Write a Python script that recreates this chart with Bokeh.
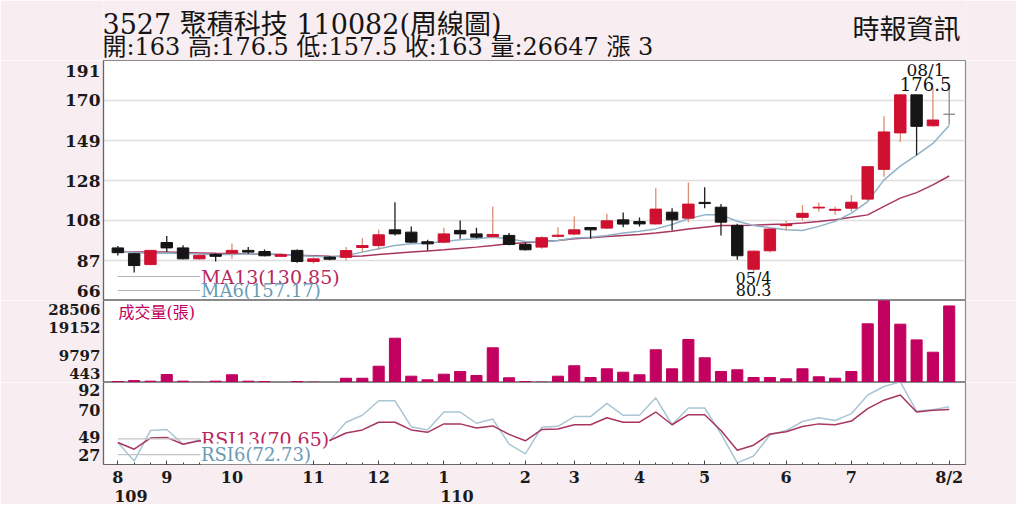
from bokeh.plotting import figure
from bokeh.layouts import column
from bokeh.models import ColumnDataSource, FixedTicker, Label, Range1d, LinearAxis
from bokeh.embed import file_html
from bokeh.resources import INLINE

# ---------------- data (weekly candles, 2020/08 .. 2021/08/02) ----------------
opens = [93.4, 90.4, 84.7, 96.2, 93.4, 87.7, 90.0, 90.7, 92.1, 91.5,
         89.0, 92.1, 86.3, 88.6, 88.5, 93.6, 94.6, 102.8, 101.6, 96.6,
         96.4, 102.5, 100.7, 99.3, 99.9, 95.2, 93.8, 99.4, 100.6, 104.0,
         103.7, 108.0, 107.1, 105.9, 112.0, 108.9, 117.1, 114.6, 105.1, 82.3,
         91.9, 105.0, 109.3, 114.2, 113.0, 114.1, 118.8, 134.3, 153.3, 173.1,
         157.0, 163.0]
highs = [94.4, 90.8, 92.3, 99.6, 94.8, 90.0, 90.5, 95.7, 93.9, 92.5,
         90.5, 92.5, 88.5, 89.0, 93.8, 98.4, 102.8, 117.2, 104.5, 97.6,
         103.9, 107.7, 103.9, 115.0, 101.1, 96.2, 99.5, 104.2, 109.7, 104.2,
         111.2, 111.8, 109.2, 124.5, 114.1, 127.5, 125.0, 116.2, 106.0, 92.0,
         103.7, 107.7, 115.8, 117.0, 115.0, 121.0, 136.0, 161.9, 173.1, 173.1,
         176.5, 176.5]
lows = [89.5, 80.6, 84.5, 91.2, 87.5, 87.3, 86.3, 87.7, 90.4, 89.0,
        88.7, 85.6, 85.2, 87.0, 86.8, 91.2, 92.4, 99.9, 96.1, 92.0,
        95.8, 98.1, 98.4, 98.6, 94.8, 92.0, 93.0, 98.8, 99.9, 98.1,
        103.2, 104.2, 104.5, 105.5, 102.5, 106.8, 114.1, 99.9, 87.2, 80.3,
        91.0, 102.5, 107.7, 112.4, 110.7, 112.4, 118.0, 130.5, 148.6, 141.7,
        156.5, 157.5]
closes = [90.9, 84.2, 92.1, 93.4, 87.7, 89.5, 89.0, 92.1, 91.2, 89.3,
          89.9, 86.3, 87.7, 87.5, 92.0, 94.6, 100.2, 100.7, 96.4, 95.5,
          100.7, 100.7, 99.0, 100.4, 95.2, 92.4, 98.7, 100.0, 102.8, 102.8,
          107.5, 105.8, 105.9, 113.6, 108.0, 116.2, 116.5, 106.8, 89.3, 91.7,
          103.2, 105.6, 111.4, 114.6, 113.5, 117.2, 135.7, 153.8, 173.1, 156.7,
          160.0, 163.0]
ma6 = [92.0, 91.0, 90.5, 90.8, 90.5, 90.2, 90.0, 90.0, 90.3, 90.2,
       90.0, 89.5, 89.0, 88.6, 89.4, 91.2, 93.0, 94.6, 95.5, 95.8,
       96.7, 97.6, 98.1, 99.0, 98.1, 96.7, 96.4, 97.3, 98.6, 99.0,
       99.9, 101.1, 102.1, 103.3, 105.6, 108.6, 110.6, 110.6, 107.3, 105.1,
       103.9, 102.8, 102.5, 104.6, 107.2, 111.5, 117.5, 128.8, 136.0, 141.7,
       147.8, 157.17]
ma13 = [91.5, 91.3, 91.2, 91.2, 91.0, 90.8, 90.6, 90.5, 90.3, 90.1,
        89.9, 89.6, 89.3, 89.0, 88.9, 89.2, 90.0, 90.6, 91.2, 91.8,
        92.4, 93.1, 93.8, 94.6, 95.5, 96.1, 96.7, 97.2, 98.1, 98.7,
        99.3, 99.9, 100.4, 101.2, 102.1, 103.2, 104.2, 105.1, 105.0, 105.2,
        105.6, 105.8, 106.4, 107.2, 108.1, 109.3, 110.6, 115.0, 119.3, 122.2,
        126.2, 130.85]
volumes = [780, 1100, 900, 3180, 900, 500, 900, 3080, 900, 780,
           443, 780, 560, 460, 1900, 1900, 6020, 15600, 2600, 1370,
           3280, 4210, 2840, 12320, 2050, 780, 550, 2600, 6160, 2150,
           5130, 3970, 3080, 11630, 5130, 15160, 8900, 4210, 4790, 2150,
           2150, 1700, 5130, 2400, 1900, 4210, 20530, 28506, 20400, 15030,
           10810, 26647]
rsi13 = [44.4, 39.1, 48.0, 48.5, 43.1, 45.8, 44.5, 49.0, 48.5, 46.5,
         47.0, 44.0, 45.5, 46.0, 52.0, 54.4, 60.5, 60.5, 54.4, 52.5,
         59.2, 59.2, 56.0, 57.6, 50.9, 45.8, 54.7, 55.2, 58.5, 58.5,
         64.1, 60.5, 60.5, 68.6, 58.5, 66.5, 66.5, 53.9, 38.3, 42.3,
         51.2, 53.0, 57.1, 59.2, 58.5, 61.4, 71.3, 78.0, 82.1, 68.6,
         70.0, 70.65]
rsi6 = [44.4, 29.7, 53.9, 54.7, 43.1, 46.4, 44.0, 54.7, 53.5, 46.0,
        48.0, 40.0, 44.0, 46.0, 60.5, 66.0, 77.5, 77.5, 57.0, 54.4,
        68.6, 68.6, 59.7, 63.0, 43.1, 35.5, 56.5, 57.3, 65.0, 65.0,
        75.4, 66.0, 66.0, 79.9, 58.5, 71.8, 71.8, 51.2, 28.3, 33.7,
        50.4, 53.9, 61.1, 64.1, 61.9, 67.3, 82.1, 88.8, 92.5, 69.4,
        70.5, 72.73]

month_ticks = [0, 3, 7, 12, 16, 20, 25, 28, 32, 36, 41, 45, 51]
month_labels = ["8", "9", "10", "11", "12", "1", "2", "3", "4", "5", "6", "7", "8/2"]
year_ticks = [0, 20]
year_labels = ["109", "110"]

price_labels = ["66", "87", "108", "128", "149", "170", "191"]
volume_labels = ["443", "9797", "19152", "28506"]
rsi_labels = ["27", "49", "70", "92"]

title_text = "3527  聚積科技 110082(周線圖)"
source_text = "時報資訊"
volume_title = "成交量(張)"
hi_date = "08/1"
lo_date = "05/4"

# ---------------- styling ----------------
SERIF = "DejaVu Serif"
MIXED = "DejaVu Serif, Noto Sans CJK TC"
PINK = "#f8eef1"
UP, DOWN, FLAT = "#cf1030", "#151515", "#8c8c8c"
UP_WICK, DOWN_WICK = "#d98f72", "#1e1e1e"
MA13_C, MA6_C = "#a83660", "#8fb2c6"
MA13_T, MA6_T = "#b8285f", "#6a9bb4"
VOL_C = "#c2005f"

W = 1016
LEFT, RIGHT = 103, 51
HEAD = 60
FRAME_P, FRAME_V, FRAME_R = 240, 82, 83
FOOT = 39

n = len(closes)
idx = list(range(n))
x_range = Range1d(-0.88, n)

p_lo, p_hi = float(price_labels[0]), float(price_labels[-1])
v_lo, v_hi = float(volume_labels[0]), float(volume_labels[-1])
r_lo, r_hi = float(rsi_labels[0]), float(rsi_labels[-1])


def make_fig(height, y_range, top, bottom, xaxis=False):
    f = figure(width=W, height=height, x_range=x_range, y_range=y_range,
               x_axis_location="below" if xaxis else None,
               output_backend="svg", toolbar_location=None, tools="",
               min_border_left=LEFT, min_border_right=RIGHT,
               min_border_top=top, min_border_bottom=bottom,
               background_fill_color="white", border_fill_color=PINK)
    f.outline_line_color = "#8a8a8a"
    f.outline_line_width = 1.2
    f.xgrid.visible = False
    f.ygrid.visible = False
    ax = f.yaxis[0]
    ax.axis_line_color = "#666666"
    ax.axis_line_width = 1.2
    ax.major_tick_in = 0
    ax.major_tick_out = 0
    ax.minor_tick_in = 0
    ax.minor_tick_out = 0
    ax.major_label_text_font = SERIF
    ax.major_label_text_font_style = "bold"
    ax.major_label_text_font_size = "17px"
    ax.major_label_text_color = "#1a1a1a"
    ax.major_label_standoff = 3
    return f


def axis_ticks(ax, lo, hi, labels, frame_px, top_shift, bot_shift):
    k = len(labels) - 1
    step = (hi - lo) / k
    pos = [round(lo + i * step, 3) for i in range(k + 1)]
    upp = (hi - lo) / frame_px
    pos[0] = round(lo + bot_shift * upp, 3)
    pos[-1] = round(hi - top_shift * upp, 3)
    ax.ticker = FixedTicker(ticks=pos)
    ax.major_label_overrides = {p: l for p, l in zip(pos, labels)}
    return [round(lo + i * step, 3) for i in range(1, k)]


# ---------------- header ----------------
head = figure(width=W, height=HEAD, x_range=Range1d(0, 1), y_range=Range1d(0, 1),
              x_axis_location=None, y_axis_location=None,
              output_backend="svg", toolbar_location=None, tools="",
              min_border_left=LEFT, min_border_right=RIGHT, min_border_top=0, min_border_bottom=0,
              background_fill_color=PINK, border_fill_color=PINK)
head.outline_line_color = None
head.xgrid.visible = False
head.ygrid.visible = False

chg = closes[-1] - closes[-2]
info = (f"開:{opens[-1]:g} 高:{highs[-1]:g} 低:{lows[-1]:g} 收:{closes[-1]:g} "
        f"量:{volumes[-1]} 漲 {chg:g}")
head.add_layout(Label(x=-1, y=HEAD - 24, x_units="screen", y_units="screen",
                      text=title_text, text_font=MIXED, text_font_size="27px",
                      text_color="#151515", text_baseline="middle"))
head.add_layout(Label(x=-1, y=HEAD - 46, x_units="screen", y_units="screen",
                      text=info, text_font=MIXED, text_font_size="24px",
                      text_color="#151515", text_baseline="middle"))
head.add_layout(Label(x=857, y=HEAD - 29, x_units="screen", y_units="screen",
                      text=source_text, text_font=MIXED, text_font_size="27px",
                      text_color="#151515", text_baseline="middle", text_align="right"))

# ---------------- price panel ----------------
p1 = make_fig(FRAME_P, Range1d(p_lo, p_hi), 0, 0)
inner = axis_ticks(p1.yaxis[0], p_lo, p_hi, price_labels, FRAME_P, 10, 9)
p1.ygrid.visible = True
p1.ygrid.ticker = FixedTicker(ticks=inner)
p1.ygrid.grid_line_color = "#dedede"
p1.ygrid.grid_line_width = 1.5

body_col, wick_col = [], []
for o, c in zip(opens, closes):
    if c > o:
        body_col.append(UP); wick_col.append(UP_WICK)
    elif c < o:
        body_col.append(DOWN); wick_col.append(DOWN_WICK)
    else:
        body_col.append(FLAT); wick_col.append(FLAT)

csrc = ColumnDataSource(dict(
    x=idx, high=highs, low=lows,
    top=[max(o, c) for o, c in zip(opens, closes)],
    bottom=[min(o, c) for o, c in zip(opens, closes)],
    body=body_col, wick=wick_col))

p1.line(idx, ma13, line_color=MA13_C, line_width=1.5)
p1.line(idx, ma6, line_color=MA6_C, line_width=1.5)
p1.segment(x0="x", y0="low", x1="x", y1="high", line_color="wick", line_width=1.3, source=csrc)
p1.vbar(x="x", width=0.7, top="top", bottom="bottom", fill_color="body",
        line_color="body", line_width=1, source=csrc)

upp_p = (p_hi - p_lo) / FRAME_P
leg_y = [p_lo + 24 * upp_p, p_lo + 10 * upp_p]
p1.segment(x0=[0, 0], x1=[5.05, 5.05], y0=leg_y, y1=leg_y, line_color="#b4b4b4", line_width=1.2)
p1.add_layout(Label(x=5.1, y=24, x_units="data", y_units="screen",
                    text=f"MA13({ma13[-1]:.2f})", text_font=SERIF, text_font_size="19px",
                    text_color=MA13_T, text_baseline="middle"))
p1.add_layout(Label(x=5.1, y=10.5, x_units="data", y_units="screen",
                    text=f"MA6({ma6[-1]:.2f})", text_font=SERIF, text_font_size="18px",
                    text_color=MA6_T, text_baseline="middle"))

hi_val = max(highs)
hi_idx = max(i for i, h in enumerate(highs) if h == hi_val)
lo_val = min(lows)
lo_idx = lows.index(lo_val)
p1.add_layout(Label(x=hi_idx - 1.45, y=hi_val, y_offset=4.5, text=f"{hi_val:g}",
                    text_font=SERIF, text_font_size="18px", text_align="center",
                    text_baseline="middle", text_color="#111"))
p1.add_layout(Label(x=hi_idx - 1.45, y=hi_val, y_offset=18.5, text=hi_date,
                    text_font=SERIF, text_font_size="17px", text_align="center",
                    text_baseline="middle", text_color="#111"))
p1.add_layout(Label(x=lo_idx, y=lo_val, y_offset=-5.5, text=lo_date,
                    text_font=SERIF, text_font_size="16px", text_align="center",
                    text_baseline="middle", text_color="#111"))
p1.add_layout(Label(x=lo_idx, y=lo_val, y_offset=-16.5, text=f"{lo_val:g}",
                    text_font=SERIF, text_font_size="16px", text_align="center",
                    text_baseline="middle", text_color="#111"))

# ---------------- volume panel ----------------
p2 = make_fig(FRAME_V, Range1d(v_lo, v_hi), 0, 0)
axis_ticks(p2.yaxis[0], v_lo, v_hi, volume_labels, FRAME_V, 9, 9)
p2.yaxis[0].major_label_text_font_size = "15px"
p2.vbar(x=idx, width=0.68, top=volumes, bottom=v_lo, fill_color=VOL_C, line_color=VOL_C)
p2.add_layout(Label(x=15, y=FRAME_V - 12, x_units="screen", y_units="screen",
                    text=volume_title, text_font=MIXED, text_font_size="16px",
                    text_color=VOL_C, text_baseline="middle"))

# ---------------- RSI panel ----------------
p3 = make_fig(FRAME_R + FOOT, Range1d(r_lo, r_hi), 0, FOOT, xaxis=True)
axis_ticks(p3.yaxis[0], r_lo, r_hi, rsi_labels, FRAME_R, 8, 10)
p3.yaxis[0].major_label_text_font_size = "16px"
p3.line(idx, rsi6, line_color="#a9c6d4", line_width=1.5)
p3.line(idx, rsi13, line_color=MA13_C, line_width=1.5)
upp_r = (r_hi - r_lo) / FRAME_R
rleg_y = [r_lo + 26 * upp_r, r_lo + 10 * upp_r]
p3.segment(x0=[0, 0], x1=[5.05, 5.05], y0=rleg_y, y1=rleg_y, line_color="#c4c4c4", line_width=1.2)
p3.add_layout(Label(x=5.1, y=26, x_units="data", y_units="screen",
                    text=f"RSI13({rsi13[-1]:.2f})", text_font=SERIF, text_font_size="19px",
                    text_color=MA13_T, text_baseline="middle", background_fill_color="white"))
p3.add_layout(Label(x=5.1, y=10.5, x_units="data", y_units="screen",
                    text=f"RSI6({rsi6[-1]:.2f})", text_font=SERIF, text_font_size="18px",
                    text_color=MA6_T, text_baseline="middle", background_fill_color="white"))


def style_x(ax):
    ax.major_label_text_font = SERIF
    ax.major_label_text_font_style = "bold"
    ax.major_label_text_font_size = "16px"
    ax.major_label_text_color = "#1a1a1a"


xa = p3.xaxis[0]
xa.ticker = FixedTicker(ticks=month_ticks, minor_ticks=idx)
xa.major_label_overrides = {t: l for t, l in zip(month_ticks, month_labels)}
xa.axis_line_color = "#666666"
xa.axis_line_width = 1.2
xa.major_tick_in = 4
xa.major_tick_out = 0
xa.minor_tick_in = 2
xa.minor_tick_out = 0
xa.major_tick_line_color = "#444"
xa.minor_tick_line_color = "#444"
xa.major_label_standoff = 3
style_x(xa)

# second row of x labels (ROC years), left-aligned under the month label
year_pos = [t + 0.8 for t in year_ticks]
ya = LinearAxis(ticker=FixedTicker(ticks=year_pos),
                major_label_overrides={p: l for p, l in zip(year_pos, year_labels)})
ya.axis_line_color = None
ya.major_tick_line_color = None
ya.minor_tick_line_color = None
ya.major_tick_in = 0
ya.major_tick_out = 0
ya.minor_tick_in = 0
ya.minor_tick_out = 0
ya.major_label_standoff = 0
style_x(ya)
p3.add_layout(ya, "below")

layout = column(head, p1, p2, p3, spacing=0)
open("out.html", "w").write(file_html(layout, INLINE))
